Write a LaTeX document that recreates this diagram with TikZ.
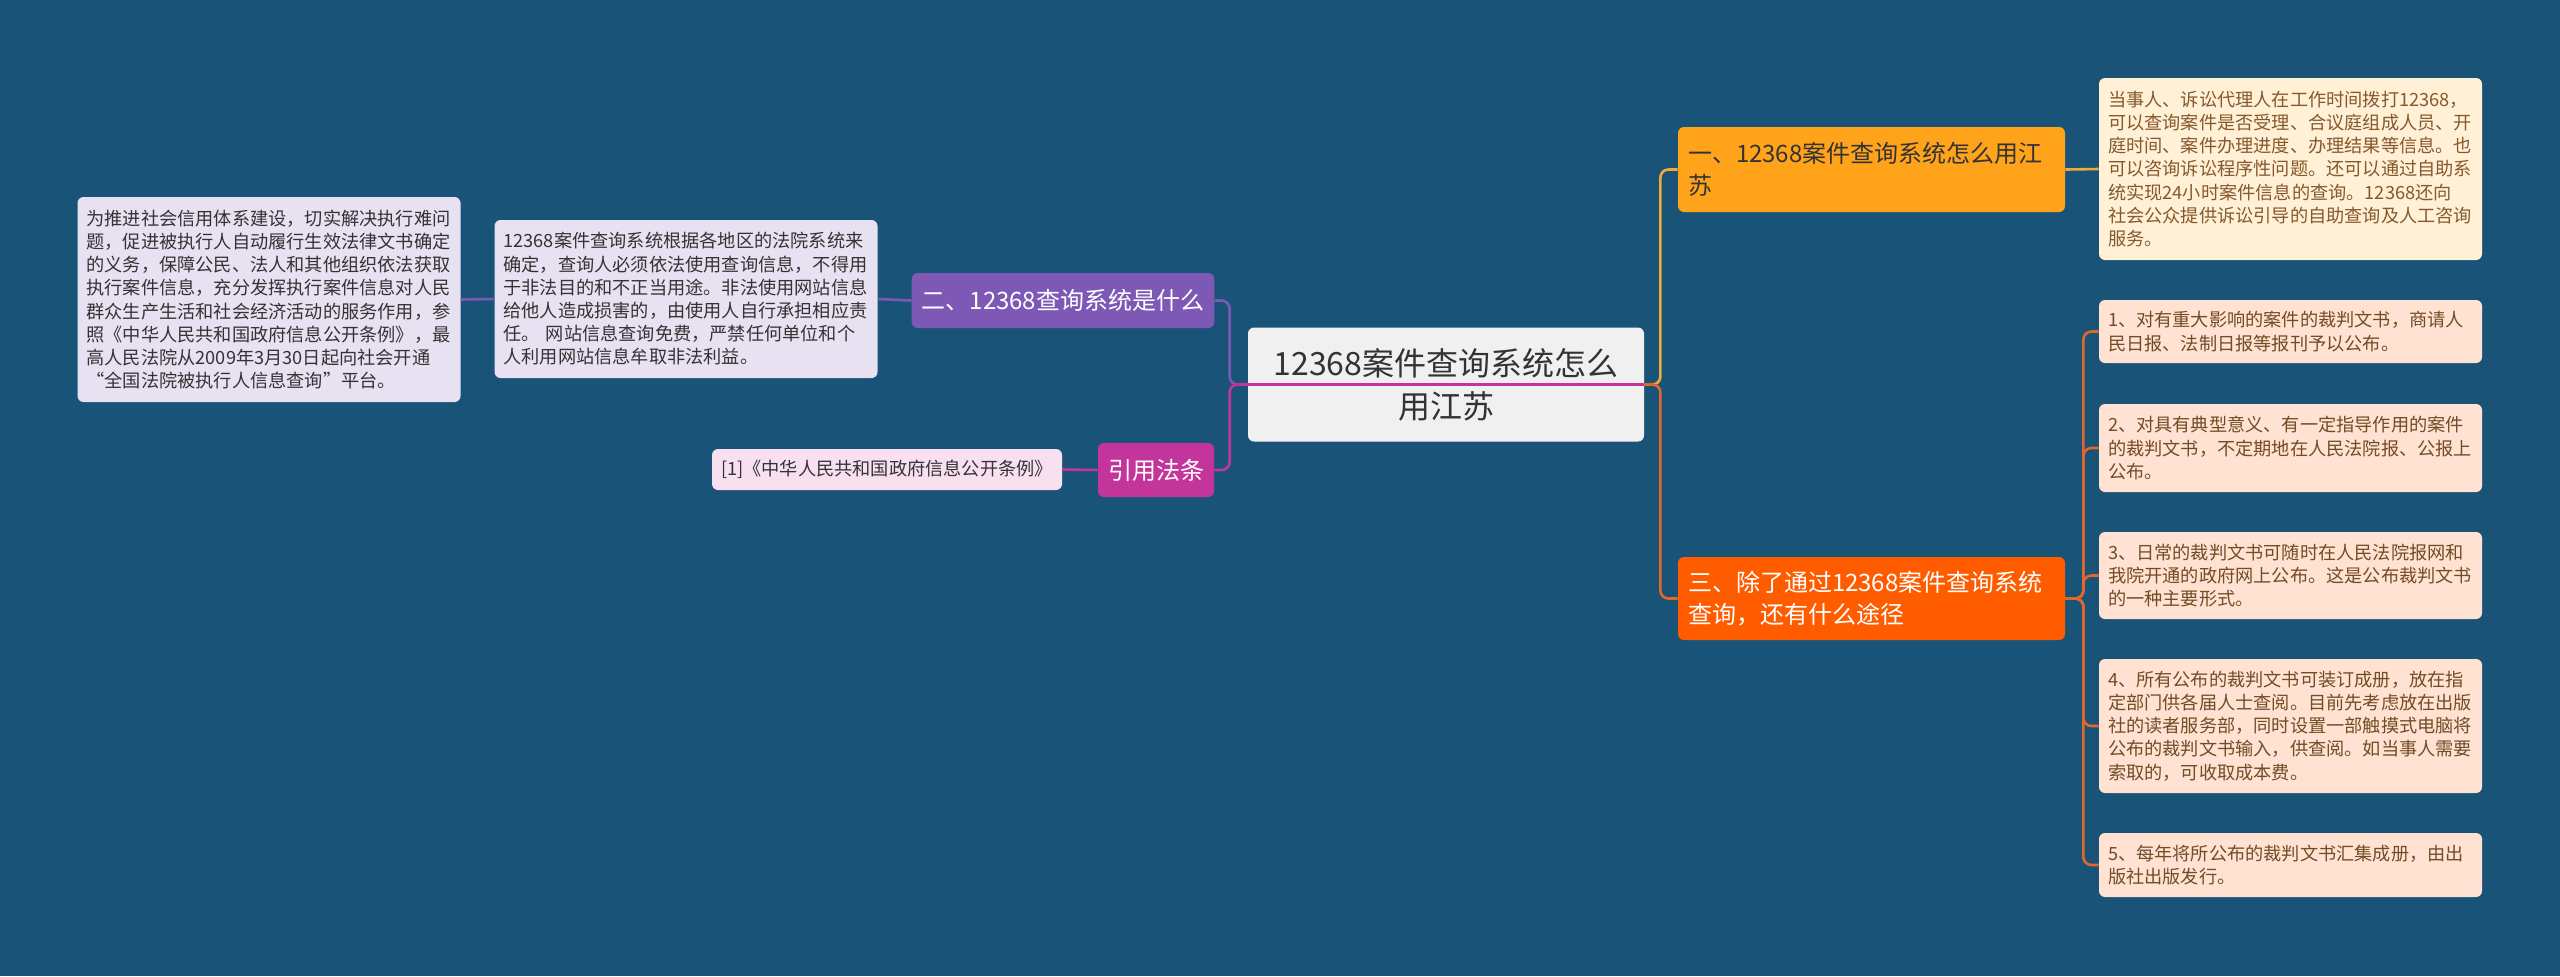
\documentclass[tikz,border=0pt]{standalone}
\usepackage{fontspec}
\setmainfont{Noto Sans CJK SC}
\definecolor{bgblue}{HTML}{1A5378}
\definecolor{rootfill}{HTML}{F0F0F0}
\definecolor{rootink}{HTML}{333333}
\definecolor{purplefill}{HTML}{7E58B5}
\definecolor{magentafill}{HTML}{C3359A}
\definecolor{pinkfill}{HTML}{F8E0F0}
\definecolor{lavfill}{HTML}{E7E1F1}
\definecolor{ambfill}{HTML}{FFA31A}
\definecolor{creamfill}{HTML}{FFF0D6}
\definecolor{redfill}{HTML}{FF5C00}
\definecolor{peachfill}{HTML}{FFE2D2}
\definecolor{ambline}{HTML}{F0A93A}
\definecolor{orangeline}{HTML}{E5662A}

\begin{document}
\begin{tikzpicture}[
    x=0.5pt, y=-0.5pt,
    root_node/.style={rounded corners=3pt, fill=rootfill, text=rootink, align=center, font=\fontsize{16pt}{21.5pt}\selectfont, minimum width=198pt, minimum height=57pt},
    main_node/.style={rounded corners=3pt, font=\fontsize{12pt}{16pt}\selectfont, inner xsep=5pt, minimum height=27pt},
    leaf_node/.style={rounded corners=3pt, font=\fontsize{9.1pt}{11.6pt}\selectfont, text width=182.5pt, inner xsep=4.5pt, inner ysep=3pt, align=left},
    link/.style={line width=1.3pt, rounded corners=4pt}
]
    \fill[bgblue] (0,0) rectangle (2560,976);
    \node[root_node] (root) at (1446,384.5) {12368案件查询系统怎么\\用江苏};
    \node[main_node, fill=purplefill, text=white, minimum width=151pt, minimum height=27.5pt] (B2) at (1063,300.5) {二、12368查询系统是什么};
    \node[main_node, fill=magentafill, text=white, minimum width=58pt] (Ref) at (1156,470) {引用法条};
    \node[leaf_node, fill=pinkfill, text=rootink, text width=166pt, minimum height=20.5pt] (R1) at (887,469.5) {[1]《中华人民共和国政府信息公开条例》};
    \node[leaf_node, fill=lavfill, text=rootink, minimum height=79pt] (D2) at (686,299) {12368案件查询系统根据各地区的法院系统来\\确定，查询人必须依法使用查询信息，不得用\\于非法目的和不正当用途。非法使用网站信息\\给他人造成损害的，由使用人自行承担相应责\\任。 网站信息查询免费，严禁任何单位和个\\人利用网站信息牟取非法利益。};
    \node[leaf_node, fill=lavfill, text=rootink, minimum height=102.5pt] (D2x) at (269,299.5) {为推进社会信用体系建设，切实解决执行难问\\题，促进被执行人自动履行生效法律文书确定\\的义务，保障公民、法人和其他组织依法获取\\执行案件信息，充分发挥执行案件信息对人民\\群众生产生活和社会经济活动的服务作用，参\\照《中华人民共和国政府信息公开条例》，最\\高人民法院从2009年3月30日起向社会开通\\“全国法院被执行人信息查询”平台。};
    \node[main_node, fill=ambfill, text=rootink, text width=183.5pt, align=left, minimum height=42.5pt] (B1) at (1871.5,169.5) {一、12368案件查询系统怎么用江\\苏};
    \node[leaf_node, fill=creamfill, text=brown!70!black, minimum height=91pt] (D1) at (2290.5,169) {当事人、诉讼代理人在工作时间拨打12368，\\可以查询案件是否受理、合议庭组成人员、开\\庭时间、案件办理进度、办理结果等信息。也\\可以咨询诉讼程序性问题。还可以通过自助系\\统实现24小时案件信息的查询。12368还向\\社会公众提供诉讼引导的自助查询及人工咨询\\服务。};
    \node[main_node, fill=redfill, text=white, text width=183.5pt, align=left, minimum height=41.5pt] (B3) at (1871.5,598.5) {三、除了通过12368案件查询系统\\查询，还有什么途径};
    \node[leaf_node, fill=peachfill, text=brown!60!black, minimum height=31.5pt] (P1) at (2290.5,331.5) {1、对有重大影响的案件的裁判文书，商请人\\民日报、法制日报等报刊予以公布。};
    \node[leaf_node, fill=peachfill, text=brown!60!black, minimum height=44pt] (P2) at (2290.5,448) {2、对具有典型意义、有一定指导作用的案件\\的裁判文书，不定期地在人民法院报、公报上\\公布。};
    \node[leaf_node, fill=peachfill, text=brown!60!black, minimum height=43.5pt] (P3) at (2290.5,575.5) {3、日常的裁判文书可随时在人民法院报网和\\我院开通的政府网上公布。这是公布裁判文书\\的一种主要形式。};
    \node[leaf_node, fill=peachfill, text=brown!60!black, minimum height=67pt] (P4) at (2290.5,726) {4、所有公布的裁判文书可装订成册，放在指\\定部门供各届人士查阅。目前先考虑放在出版\\社的读者服务部，同时设置一部触摸式电脑将\\公布的裁判文书输入，供查阅。如当事人需要\\索取的，可收取成本费。};
    \node[leaf_node, fill=peachfill, text=brown!60!black, minimum height=32pt] (P5) at (2290.5,865) {5、每年将所公布的裁判文书汇集成册，由出\\版社出版发行。};
    \draw [link, purplefill] (root.west) -- ++(-18,0) |- (B2.east);
    \draw [link, magentafill] (root.east) -- (root.west) -- ++(-18,0) |- (Ref.east);
    \draw [link, purplefill] (B2.west) -- (D2.east);
    \draw [link, purplefill] (D2.west) -- (D2x.east);
    \draw [link, magentafill] (Ref.west) -- (R1.east);
    \draw [link, ambline] (root.east) -- ++(16,0) |- (B1.west);
    \draw [link, orangeline] (root.east) -- ++(16,0) |- (B3.west);
    \draw [link, ambline] (B1.east) -- (D1.west);
    \draw [link, orangeline] (B3.east) -- ++(18,0) |- (P1.west);
    \draw [link, orangeline] (B3.east) -- ++(18,0) |- (P2.west);
    \draw [link, orangeline] (B3.east) -- ++(18,0) |- (P3.west);
    \draw [link, orangeline] (B3.east) -- ++(18,0) |- (P4.west);
    \draw [link, orangeline] (B3.east) -- ++(18,0) |- (P5.west);
\end{tikzpicture}
\end{document}
